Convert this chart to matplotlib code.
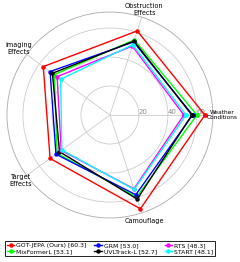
"""Radar chart of tracking performance per challenge category."""

import matplotlib.pyplot as plt
import numpy as np


CATEGORIES = ["Weather\nConditions", "Obstruction\nEffects", "Imaging\nEffects",
              "Target\nEffects", "Camouflage"]

GOT_JEPA = [65.5, 61.0, 56.8, 51.0, 68.0]
MIXFORMER = [60.0, 54.5, 47.4, 45.0, 59.5]
GRM = [57.0, 53.0, 51.0, 46.0, 57.8]
UVLTRACK = [56.5, 53.6, 49.0, 43.0, 61.0]
RTS = [51.0, 50.0, 45.0, 41.5, 53.5]
START = [52.5, 51.0, 42.0, 41.0, 54.0]

LABELS = ["GOT-JEPA (Ours) [60.3]", "MixFormerL [53.1]", "GRM [53.0]",
          "UVLTrack-L [52.7]", "RTS [48.3]", "START [48.1]"]
SERIES = [GOT_JEPA, MIXFORMER, GRM, UVLTRACK, RTS, START]
COLORS = ["red", "lime", "blue", "black", "magenta", "cyan"]

R_TICKS = [20, 40, 60]
R_MAX = 71


def main() -> None:
    fig = plt.figure(figsize=(2.4, 2.62), dpi=100)
    ax = fig.add_axes([0.029, 0.168, 0.858, 0.786], projection="polar")

    angles = np.linspace(0, 2 * np.pi, len(CATEGORIES), endpoint=False)
    closed = np.append(angles, angles[0])

    for values, label, color in zip(SERIES, LABELS, COLORS):
        vals = np.append(values, values[0])
        ax.plot(closed, vals, color=color, lw=1.0, marker="o", ms=2.2,
                label=label)

    ax.set_ylim(0, R_MAX)
    ax.set_rgrids(R_TICKS, labels=[str(t) for t in R_TICKS], angle=0,
                  fontsize=5, color="#888888")
    ax.set_xticks(angles)
    ax.set_xticklabels([])
    ax.grid(color="#cccccc", lw=0.6)
    ax.spines["polar"].set_color("#aaaaaa")
    ax.spines["polar"].set_linewidth(0.6)

    # le libellé de droite part du bord intérieur pour rester dans l'image
    rayons = [66.8, 76.5, 77.5, 76.5, 76.5]
    alignements = ["left", "center", "center", "center", "center"]
    tailles = [4.2, 4.7, 4.7, 4.7, 4.7]
    for ang, name, r, ha, fs in zip(angles, CATEGORIES, rayons, alignements, tailles):
        ax.text(ang, r, name, ha=ha, va="center", ma="center", fontsize=fs,
                clip_on=False)

    leg = fig.legend(loc="lower center", bbox_to_anchor=(0.458, 0.01), ncol=3,
                     fontsize=4.4, fancybox=False, edgecolor="black",
                     handlelength=1.2, handletextpad=0.3, columnspacing=1.3,
                     borderpad=0.3, labelspacing=0.2, framealpha=1)
    leg.get_frame().set_linewidth(0.6)

    fig.savefig("out.png", dpi=100)
    plt.close(fig)


if __name__ == "__main__":
    main()
